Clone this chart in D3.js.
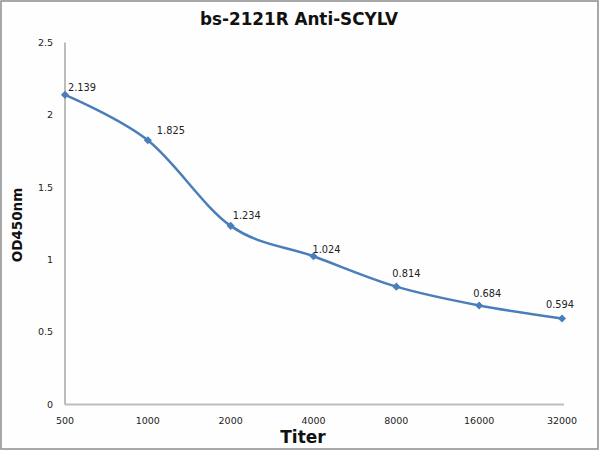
<!DOCTYPE html>
<html><head><meta charset="utf-8">
<script src="https://cdn.jsdelivr.net/npm/d3@7"></script>
<style>body{margin:0;background:#fff}svg{display:block}</style>
</head><body>
<svg id="c" width="600" height="452"></svg>
<script>
const categories = ["500","1000","2000","4000","8000","16000","32000"];
const values = [2.139, 1.825, 1.234, 1.024, 0.814, 0.684, 0.594];
const yTicks = [0, 0.5, 1, 1.5, 2, 2.5];
const title = "bs-2121R Anti-SCYLV";
const xTitle = "Titer";
const yTitle = "OD450nm";

const svg = d3.select("#c");
svg.append("rect").attr("x",1).attr("y",1).attr("width",597).attr("height",448)
  .attr("fill","#fefefe").attr("stroke","#8c8c8c").attr("stroke-width",1.5);

const x = d3.scalePoint().domain(categories).range([65, 562]);
const y = d3.scaleLinear().domain([0, 2.5]).range([404.5, 42.6]);
const font = "'DejaVu Sans', Verdana, sans-serif";

// axes lines
svg.append("line").attr("x1",65).attr("x2",65).attr("y1",y(2.5)).attr("y2",y(0))
  .attr("stroke","#a6a6a6").attr("stroke-width",1.5);
svg.append("line").attr("x1",65).attr("x2",564).attr("y1",y(0)).attr("y2",y(0))
  .attr("stroke","#bdbdbd").attr("stroke-width",2);

// y tick labels
svg.append("g").selectAll("text").data(yTicks).join("text")
  .attr("x",53).attr("y",d=>y(d)).attr("dy","0.35em").attr("text-anchor","end")
  .attr("font-family",font).attr("font-size",9.5).attr("fill","#222")
  .text(d=>d3.format("")(d));

// x tick labels
svg.append("g").selectAll("text").data(categories).join("text")
  .attr("x",d=>x(d)).attr("y",421).attr("dy","0.35em").attr("text-anchor","middle")
  .attr("font-family",font).attr("font-size",9.5).attr("fill","#222")
  .text(d=>d);

// line
const line = d3.line().x((d,i)=>x(categories[i])).y(d=>y(d)).curve(d3.curveCatmullRom.alpha(0));
svg.append("path").datum(values).attr("d",line).attr("fill","none")
  .attr("stroke","#4a7ebb").attr("stroke-width",2.5);

// markers
svg.append("g").selectAll("path").data(values).join("path")
  .attr("transform",(d,i)=>`translate(${x(categories[i])},${y(d)})`)
  .attr("d", d3.symbol(d3.symbolDiamond2, 42)).attr("fill","#4a7ebb");

// data labels
const off = [[3,-7],[9,-10],[2,-10],[-1,-7],[-4,-13],[-6,-12],[-16,-14]];
svg.append("g").selectAll("text").data(values).join("text")
  .attr("x",(d,i)=>x(categories[i])+off[i][0]).attr("y",(d,i)=>y(d)+off[i][1])
  .attr("dy","0.35em").attr("font-family",font).attr("font-size",9.8).attr("fill","#222")
  .text(d=>d3.format(".3f")(d));

// titles
svg.append("text").attr("x",299).attr("y",25).attr("text-anchor","middle")
  .attr("font-family",font).attr("font-weight","bold").attr("font-size",16.8).attr("fill","#111")
  .text(title);
svg.append("text").attr("x",303).attr("y",443).attr("text-anchor","middle")
  .attr("font-family",font).attr("font-weight","bold").attr("font-size",17).attr("fill","#111")
  .text(xTitle);
svg.append("text").attr("transform","translate(22,225) rotate(-90)").attr("text-anchor","middle")
  .attr("font-family",font).attr("font-weight","bold").attr("font-size",13.5).attr("fill","#111")
  .text(yTitle);
</script>
</body></html>
